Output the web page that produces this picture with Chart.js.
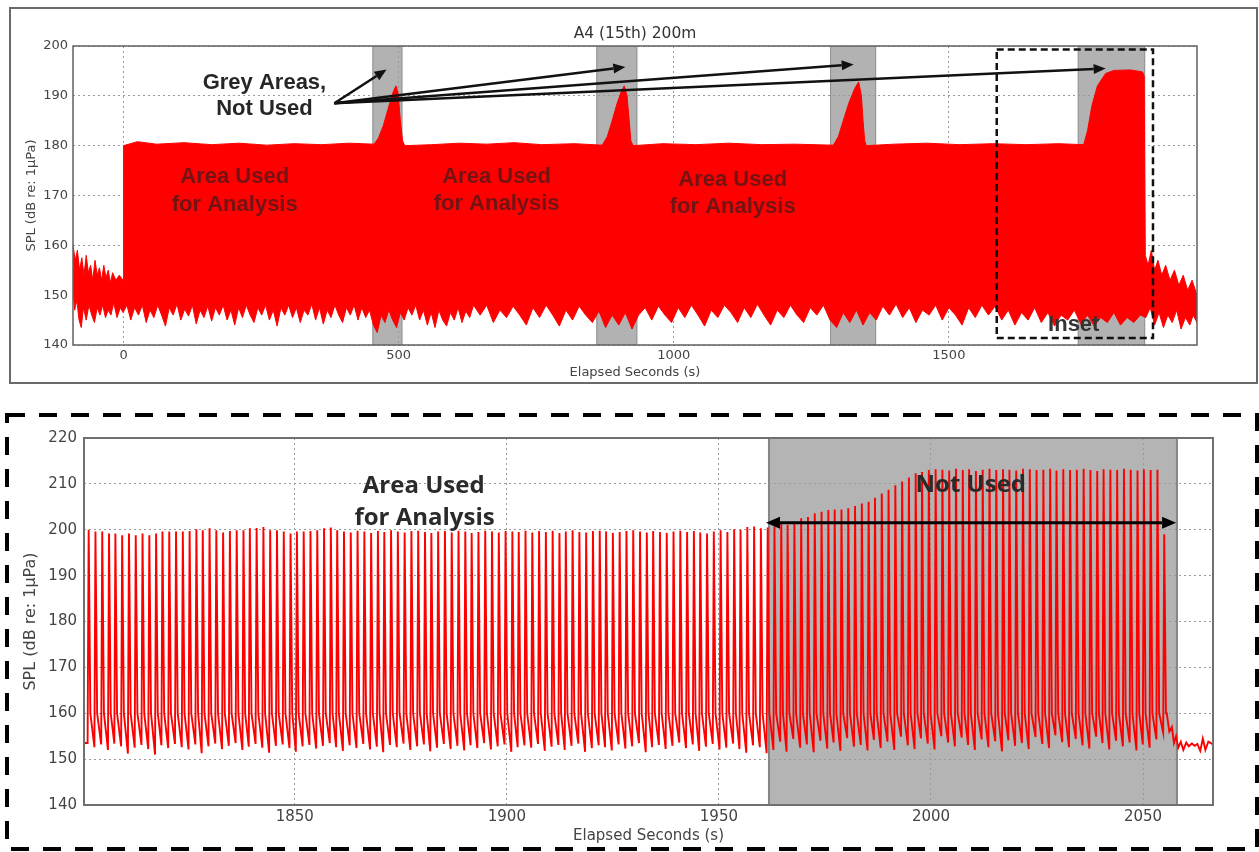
<!DOCTYPE html>
<html>
<head>
<meta charset="utf-8">
<script src="https://cdn.jsdelivr.net/npm/chart.js@4.4.0/dist/chart.umd.min.js"></script>
<style>
  body { margin: 0; background: #fff; width: 1259px; height: 852px; position: relative; overflow: hidden; }
  #frameTop { position: absolute; left: 9px; top: 7px; width: 1245px; height: 373px; border: 2px solid #6a6a6a; }
  canvas { position: absolute; left: 0; }
  #topChart { top: 0; }
  #bottomChart { top: 400px; }
</style>
</head>
<body>
<div id="frameTop"></div>
<canvas id="topChart" width="1259" height="395"></canvas>
<canvas id="bottomChart" width="1259" height="452"></canvas>
<script>
// ---- top panel : whole recording (envelope of the signal) ----
const topTitle = "A4 (15th) 200m";
const topYTicks = [140, 150, 160, 170, 180, 190, 200];
const topXTicks = [0, 500, 1000, 1500];
// grey (not used) windows, seconds
const topGreyAreas = [[453, 506], [860, 933], [1285, 1367], [1735, 1856]];
// upper edge of the red band [s, dB]
const topUpper = [
  [-92,160],[-88,157],[-84,159],[-80,155],[-76,157.5],[-72,154],[-68,158],[-64,154.5],[-60,156],[-56,153],
  [-52,157],[-48,154],[-44,155.5],[-40,153],[-36,156],[-32,153.5],[-28,155],[-24,152.5],[-20,154.5],[-14,153],
  [-8,154],[-1,153],[0,180],[25,180.8],[60,180.3],[110,180.6],[160,180.2],[210,180.5],[260,180.1],[310,180.4],
  [360,180.2],[410,180.5],[455,180.3],[463,181.5],[472,184],[481,187.5],[489,190.5],[495,192],[499,190.5],[503,185],[507,181],[511,180],
  [560,180.2],[610,180.5],[660,180.3],[710,180.6],[760,180.2],[820,180.4],[870,180.1],[879,181.8],[888,185],[897,188.5],[905,191],
  [910,192],[915,190],[919,185],[922,181],[926,180],[980,180.4],[1040,180.2],[1100,180.5],[1160,180.2],[1220,180.3],[1290,180.1],
  [1299,181.8],[1308,185],[1318,188.5],[1329,191.5],[1336,192.8],[1341,190],[1344,185],[1347,181],[1350,180],[1400,180.3],[1460,180.5],[1520,180.2],
  [1580,180.4],[1640,180.2],[1700,180.4],[1745,180.2],[1752,183],[1760,188],[1770,192],[1785,194.5],[1800,195.1],[1830,195.2],
  [1852,194.8],[1855,194],[1857,158],[1862,156],[1868,159],[1874,155],[1880,157],[1887,154],[1894,156],[1902,153],
  [1910,155],[1918,152],[1926,154],[1934,151],[1942,153],[1951,150]
];
// lower edge of the red band [s, dB]
const topLower = [
  [-92,151],[-89,147],[-85,149],[-81,145],[-77,143.5],[-73,147.5],[-68,145],[-63,148],[-58,146],[-53,144.5],
  [-48,147.5],[-43,146],[-38,148],[-33,145.5],[-28,147],[-23,146],[-18,148.5],[-12,145.5],[-6,147.5],[-1,146.5],
  [6,148],[13,145],[20,147.5],[27,146],[34,148],[41,144.5],[48,147],[55,145.5],[62,148],[69,146],
  [76,143.8],[83,147.5],[90,146],[97,148.2],[104,145],[111,147.2],[118,145.8],[125,148],[132,144.2],[139,147],
  [146,145.5],[153,147.8],[160,144.8],[167,147.5],[174,146],[181,148],[188,145],[195,147],[202,144],[209,147.5],
  [216,145.5],[223,148],[230,146],[237,144.5],[244,147.5],[251,146],[258,148],[265,145],[272,147],[279,143.8],
  [286,147.5],[293,146],[300,148],[307,145.5],[314,147.5],[321,144.5],[328,147],[335,146],[342,148.2],[349,145],
  [356,147.5],[363,144.2],[370,147],[377,145.5],[384,148],[391,146],[398,144.5],[405,147.5],[412,146],[419,148],
  [426,145],[433,147.5],[440,145.5],[447,147],[454,144],[461,142.5],[468,146],[475,144.5],[482,147],[489,145],
  [496,143.5],[503,146.5],[510,145],[517,147.5],[524,146],[531,148],[538,145],[545,147],[552,144],[559,146.5],
  [566,143.5],[573,147],[580,145],[587,143.8],[594,146.5],[601,145],[608,147.5],[615,144.5],[622,146.8],[629,145.5],
  [636,148],[648,146],[660,148],[672,144.5],[684,147],[696,145.5],[708,147.8],[720,146],[732,144],[744,147.5],
  [756,145.5],[768,148],[780,146],[792,143.8],[804,147],[816,145],[828,147.8],[840,146],[852,144.5],[864,146.8],
  [876,143.5],[888,146],[900,144],[912,146.5],[924,143.2],[936,146],[948,147.5],[960,145],[972,147.8],[984,146],
  [996,144.5],[1008,147.5],[1020,145.5],[1032,148],[1044,146],[1056,143.8],[1068,147],[1080,145.5],[1092,148],[1104,146.5],
  [1116,144.5],[1128,147.5],[1140,145.5],[1152,148.2],[1164,146],[1176,144],[1188,147],[1200,145.5],[1212,148],[1224,146],
  [1236,144.5],[1248,147.5],[1260,146],[1272,148],[1284,145],[1296,143.5],[1308,146.5],[1320,144.5],[1332,147],[1344,144],
  [1356,146.5],[1368,145],[1380,147.8],[1392,146],[1404,148.2],[1416,145.5],[1428,147.5],[1440,144.5],[1452,147],[1464,146],
  [1476,148],[1488,145],[1500,147.5],[1512,146],[1524,144],[1536,147.5],[1548,145.5],[1560,148],[1572,146],[1584,147.8],
  [1596,145],[1608,147],[1620,144],[1632,146.5],[1644,145],[1656,147.5],[1668,144.5],[1680,146.5],[1692,143.8],[1704,146],
  [1716,145],[1728,147],[1740,144.2],[1752,146],[1764,143.8],[1776,145.5],[1788,144.5],[1800,146.5],[1812,144],[1824,145.5],
  [1836,144.5],[1848,146],[1858,145.5],[1866,147.5],[1874,144],[1882,146.5],[1890,143.5],[1898,146],[1906,144.5],[1914,147],
  [1922,143.2],[1930,145.5],[1938,144],[1944,146],[1951,144.5]
];

// ---- bottom panel : inset, single pulses ----
const insetYTicks = [140, 150, 160, 170, 180, 190, 200, 210, 220];
const insetXTicks = [1850, 1900, 1950, 2000, 2050];
const insetGreyArea = [1961.8, 2058];
// time of each pulse peak (s)
const pulseTimes = [
  1801.4,1803.0,1804.6,1806.2,1807.7,1809.3,1810.9,1812.5,1814.1,1815.7,1817.3,1818.8,1820.4,1822.0,1823.6,1825.2,1826.8,1828.3,1829.9,1831.5,
  1833.1,1834.7,1836.3,1837.9,1839.4,1841.0,1842.6,1844.2,1845.8,1847.4,1849.0,1850.5,1852.1,1853.7,1855.3,1856.9,1858.5,1860.0,1861.6,1863.2,
  1864.8,1866.4,1868.0,1869.6,1871.1,1872.7,1874.3,1875.9,1877.5,1879.1,1880.7,1882.2,1883.8,1885.4,1887.0,1888.6,1890.2,1891.7,1893.3,1894.9,
  1896.5,1898.1,1899.7,1901.3,1902.8,1904.4,1906.0,1907.6,1909.2,1910.8,1912.4,1913.9,1915.5,1917.1,1918.7,1920.3,1921.9,1923.4,1925.0,1926.6,
  1928.2,1929.8,1931.4,1933.0,1934.5,1936.1,1937.7,1939.3,1940.9,1942.5,1944.1,1945.6,1947.2,1948.8,1950.4,1952.0,1953.6,1955.1,1956.7,1958.3,
  1959.9,1961.5,1963.1,1964.7,1966.2,1967.8,1969.4,1971.0,1972.6,1974.2,1975.8,1977.3,1978.9,1980.5,1982.1,1983.7,1985.3,1986.8,1988.4,1990.0,
  1991.6,1993.2,1994.8,1996.4,1997.9,1999.5,2001.1,2002.7,2004.3,2005.9,2007.5,2009.0,2010.6,2012.2,2013.8,2015.4,2017.0,2018.5,2020.1,2021.7,
  2023.3,2024.9,2026.5,2028.1,2029.6,2031.2,2032.8,2034.4,2036.0,2037.6,2039.2,2040.7,2042.3,2043.9,2045.5,2047.1,2048.7,2050.2,2051.8,2053.4,
  2055.0
];
// peak level of each pulse (dB)
const pulsePeaks = [
  200.0,199.6,199.6,199.2,199.2,198.8,199.2,198.8,199.2,198.8,199.2,199.6,199.6,199.6,199.6,199.7,200.1,199.9,200.3,199.9,
  199.4,199.7,199.9,199.9,200.3,200.4,200.6,199.9,199.9,199.6,199.2,199.6,199.6,
  199.7,199.9,200.3,200.5,199.9,199.6,199.4,199.8,199.6,199.3,199.7,199.5,199.9,199.6,199.4,199.7,199.8,199.5,199.3,199.6,
  199.7,199.4,199.8,199.6,199.3,199.5,199.8,199.6,199.4,199.7,199.6,199.5,199.8,
  199.4,199.7,199.5,199.8,199.3,199.6,199.9,199.5,199.4,199.7,199.8,199.6,199.3,199.5,199.7,199.9,199.6,199.4,199.7,199.5,
  199.3,199.6,199.8,199.5,199.7,199.4,199.2,199.6,199.9,199.5,200.1,200.0,200.6,200.7,200.3,200.5,
  200.7,201.4,201.1,201.7,202.5,202.8,203.6,203.9,204.3,204.4,204.4,204.7,205.2,205.7,206.1,207.0,207.9,208.7,209.7,210.5,
  211.4,212.3,212.6,213.0,213.2,
  213.1,212.9,213.3,213.0,213.2,212.8,213.1,213.3,213.0,213.2,213.1,212.9,213.3,213.2,213.0,213.1,213.3,212.9,213.2,213.0,
  213.1,213.3,213.0,212.8,213.2,213.1,213.0,213.3,213.1,212.9,213.2,213.0,213.1,
  199.0
];
// floor reached just before each pulse (dB)
const pulseFloors = [
  153.5,152.6,153.2,152.0,153.4,152.8,151.2,152.5,153.1,152.2,151.0,153.0,152.4,153.3,152.6,152.1,153.2,151.3,152.8,153.4,
  152.2,152.9,153.5,152.0,152.7,153.3,152.5,151.4,152.9,153.2,152.4,151.6,152.8,
  153.1,152.3,152.9,153.5,152.6,151.8,153.0,152.4,153.3,152.1,152.7,151.5,153.1,152.6,153.4,152.0,152.8,153.2,151.7,152.5,
  153.3,152.2,152.9,151.9,153.0,152.4,153.5,152.1,152.8,153.2,151.6,152.6,153.0,
  152.5,153.3,151.8,152.7,153.1,152.0,152.9,153.4,151.6,152.4,153.0,152.6,151.9,153.2,152.3,152.8,153.5,151.5,152.6,153.1,
  152.2,152.9,153.6,152.4,153.2,151.8,152.7,153.3,152.1,152.5,153.4,152.2,151.4,153.0,152.6,151.3,
  152.0,153.8,151.6,154.4,152.5,153.2,151.5,154.0,152.3,153.6,151.8,154.6,152.7,153.1,151.9,154.2,152.4,153.8,152.0,154.9,
  153.0,152.2,154.5,153.4,152.1,155.0,153.6,152.8,154.7,153.1,152.0,154.3,152.6,153.9,151.7,154.1,152.9,153.5,152.2,154.8,
  153.3,152.4,155.2,153.7,152.6,154.4,153.0,152.3,154.9,153.5,152.1,154.0,152.8,153.6,151.9,153.2,152.5,154.3,155.8
];
// level where the fast decay of a pulse turns into the slow one (dB)
const PULSE_KNEE_DB = 160;
// noise after the last pulse [s, dB]
const insetTail = [
  [2055.6,160],[2056.2,156],[2056.8,157],[2057.3,153.5],[2057.8,155],[2058.3,152.5],[2058.9,153.8],[2059.5,152],[2060.2,153.6],
  [2060.8,152.8],[2061.5,153.4],[2062.2,152.9],[2062.8,153.3],[2063.5,151.8],[2064.1,154.5],[2064.7,152],[2065.4,153.8],[2066.5,153.2]
];

const RED = "#ff0000";
const TICK_COLOR = "#444";
const FONT = "'DejaVu Sans', sans-serif";
const ANNOT_FONT = "'Liberation Sans', Arial, sans-serif";
const INSET_FONT = "'Open Sans', 'Liberation Sans', sans-serif";

// build the closed outline of the band: upper edge forward, lower edge back
const bandOutline = topUpper.map(p => ({ x: p[0], y: p[1] }))
  .concat(topLower.slice().reverse().map(p => ({ x: p[0], y: p[1] })));

// pulse train: floor -> peak -> knee for each pulse, then the tail
const pulseLine = [{ x: 1800, y: pulseFloors[0] }];
const nPulses = Math.min(pulseTimes.length, pulsePeaks.length, pulseFloors.length);
for (let i = 0; i < nPulses; i++) {
  pulseLine.push({ x: pulseTimes[i] - 0.25, y: pulseFloors[i] });
  pulseLine.push({ x: pulseTimes[i], y: pulsePeaks[i] });
  pulseLine.push({ x: pulseTimes[i] + 0.4, y: PULSE_KNEE_DB });
}
insetTail.forEach(p => pulseLine.push({ x: p[0], y: p[1] }));

function drawArrow(ctx, x0, y0, x1, y1, lw, headLen, headW) {
  const ang = Math.atan2(y1 - y0, x1 - x0);
  const bx = x1 - headLen * Math.cos(ang), by = y1 - headLen * Math.sin(ang);
  ctx.lineWidth = lw;
  ctx.beginPath(); ctx.moveTo(x0, y0); ctx.lineTo(bx, by); ctx.stroke();
  ctx.beginPath();
  ctx.moveTo(x1, y1);
  ctx.lineTo(bx + headW * Math.sin(ang), by - headW * Math.cos(ang));
  ctx.lineTo(bx - headW * Math.sin(ang), by + headW * Math.cos(ang));
  ctx.closePath(); ctx.fill();
}

function greyRect(ctx, a, x0, x1, fill, edge, edgeW) {
  ctx.fillStyle = fill;
  ctx.fillRect(x0, a.top, x1 - x0, a.bottom - a.top);
  ctx.strokeStyle = edge; ctx.lineWidth = edgeW;
  ctx.beginPath();
  ctx.moveTo(x0, a.top); ctx.lineTo(x0, a.bottom);
  ctx.moveTo(x1, a.top); ctx.lineTo(x1, a.bottom);
  ctx.stroke();
}

const topDecor = {
  id: "topDecor",
  beforeDraw(chart) {
    const { ctx, chartArea: a, scales: { x } } = chart;
    ctx.save();
    topGreyAreas.forEach(g => greyRect(ctx, a, x.getPixelForValue(g[0]), x.getPixelForValue(g[1]), "#b2b2b2", "#8a8a8a", 1));
    ctx.restore();
  },
  afterDraw(chart) {
    const { ctx, chartArea: a, scales: { x, y } } = chart;
    const px = v => x.getPixelForValue(v), py = v => y.getPixelForValue(v);
    ctx.save();
    // axes frame
    ctx.strokeStyle = "#606060"; ctx.lineWidth = 1.5;
    ctx.strokeRect(a.left, a.top, a.right - a.left, a.bottom - a.top);
    // title
    ctx.fillStyle = "#333"; ctx.font = "15.5px " + FONT;
    ctx.textAlign = "center"; ctx.textBaseline = "middle";
    ctx.fillText(topTitle, (a.left + a.right) / 2, a.top - 12);
    // "Area Used for Analysis" over the red band
    ctx.font = "bold 22px " + ANNOT_FONT;
    ctx.fillStyle = "rgba(30,30,30,0.62)";
    [[202, 173.7, 168.1], [678, 173.7, 168.4], [1107, 173.1, 167.7]].forEach(t => {
      ctx.fillText("Area Used", px(t[0]), py(t[1]));
      ctx.fillText("for Analysis", px(t[0]), py(t[2]));
    });
    // grey areas label and arrows
    ctx.fillStyle = "#262626";
    ctx.fillText("Grey Areas,", px(256), py(192.6));
    ctx.fillText("Not Used", px(256), py(187.3));
    ctx.strokeStyle = "#111"; ctx.fillStyle = "#111";
    [[478, 195.3], [912, 195.8], [1327, 196.3], [1785, 195.5]].forEach(h => {
      drawArrow(ctx, px(383), py(188.5), px(h[0]), py(h[1]), 2.5, 12, 5);
    });
    // inset box
    ctx.setLineDash([7, 4]); ctx.lineWidth = 2.5; ctx.strokeStyle = "#111";
    ctx.strokeRect(px(1587), py(199.3), px(1871) - px(1587), py(141.4) - py(199.3));
    ctx.setLineDash([]);
    ctx.fillStyle = "#333"; ctx.font = "bold 22px " + ANNOT_FONT;
    ctx.fillText("Inset", px(1727), py(144));
    ctx.restore();
  }
};

const bottomDecor = {
  id: "bottomDecor",
  beforeDraw(chart) {
    const { ctx, chartArea: a, scales: { x } } = chart;
    ctx.save();
    greyRect(ctx, a, x.getPixelForValue(insetGreyArea[0]), x.getPixelForValue(insetGreyArea[1]), "#b4b4b4", "#858585", 2);
    ctx.restore();
  },
  afterDraw(chart) {
    const { ctx, chartArea: a, scales: { x, y } } = chart;
    const px = v => x.getPixelForValue(v), py = v => y.getPixelForValue(v);
    ctx.save();
    ctx.strokeStyle = "#707070"; ctx.lineWidth = 2;
    ctx.strokeRect(a.left, a.top, a.right - a.left, a.bottom - a.top);
    ctx.fillStyle = "#2a2a2a"; ctx.font = "bold 24px " + INSET_FONT;
    ctx.textAlign = "center"; ctx.textBaseline = "middle";
    ctx.fillText("Area Used", px(1880.4), py(209.5));
    ctx.fillText("for Analysis", px(1880.6), py(202.6));
    ctx.fillText("Not Used", px(2009.4), py(209.8));
    // double arrow across the grey window
    ctx.strokeStyle = "#000"; ctx.fillStyle = "#000";
    drawArrow(ctx, px(2009), py(201.5), px(2057.8), py(201.5), 3, 14, 6);
    drawArrow(ctx, px(2009), py(201.5), px(1961.1), py(201.5), 3, 14, 6);
    // dashed frame around the inset
    ctx.setLineDash([18, 14]); ctx.lineWidth = 4; ctx.strokeStyle = "#000";
    ctx.strokeRect(7, 15, 1250, 434);
    ctx.restore();
  }
};

Chart.defaults.font.family = FONT;
Chart.defaults.color = TICK_COLOR;

const gridStyle = { color: "#9a9a9a", lineWidth: 1, drawTicks: false };
const gridBorder = { display: false, dash: [2, 3] };
const plainLabel = v => String(v);

new Chart(document.getElementById("topChart"), {
  type: "line",
  data: {
    datasets: [{
      data: bandOutline,
      borderColor: RED,
      backgroundColor: RED,
      borderWidth: 1,
      fill: "shape",
      pointRadius: 0,
      tension: 0
    }]
  },
  options: {
    responsive: false,
    animation: false,
    events: [],
    layout: { padding: { left: 24, top: 46, right: 62, bottom: 10 } },
    plugins: { legend: { display: false }, tooltip: { enabled: false }, title: { display: false } },
    scales: {
      x: {
        type: "linear", min: -92, max: 1951,
        afterFit: s => { s.height = 40; },
        afterBuildTicks: s => { s.ticks = topXTicks.map(v => ({ value: v })); },
        grid: Object.assign({}, gridStyle),
        border: gridBorder,
        ticks: { font: { size: 13 }, color: TICK_COLOR, padding: 3, maxRotation: 0, callback: plainLabel },
        title: { display: true, text: "Elapsed Seconds (s)", font: { size: 13 }, color: TICK_COLOR, padding: { top: 0, bottom: 5 } }
      },
      y: {
        min: 140, max: 200,
        afterFit: s => { s.width = 49; },
        afterBuildTicks: s => { s.ticks = topYTicks.map(v => ({ value: v })); },
        grid: Object.assign({}, gridStyle),
        border: gridBorder,
        ticks: { font: { size: 13 }, color: TICK_COLOR, padding: 5, callback: plainLabel },
        title: { display: true, text: "SPL (dB re: 1μPa)", font: { size: 13 }, color: TICK_COLOR, padding: 0 }
      }
    }
  },
  plugins: [topDecor]
});

new Chart(document.getElementById("bottomChart"), {
  type: "line",
  data: {
    datasets: [{
      data: pulseLine,
      borderColor: RED,
      borderWidth: 1.9,
      fill: false,
      pointRadius: 0,
      tension: 0
    }]
  },
  options: {
    responsive: false,
    animation: false,
    events: [],
    layout: { padding: { left: 21, top: 38, right: 46, bottom: 2 } },
    plugins: { legend: { display: false }, tooltip: { enabled: false }, title: { display: false } },
    scales: {
      x: {
        type: "linear", min: 1800.3, max: 2066.5,
        afterFit: s => { s.height = 45; },
        afterBuildTicks: s => { s.ticks = insetXTicks.map(v => ({ value: v })); },
        grid: Object.assign({}, gridStyle),
        border: gridBorder,
        ticks: { font: { size: 15 }, color: TICK_COLOR, padding: 3, maxRotation: 0, callback: plainLabel },
        title: { display: true, text: "Elapsed Seconds (s)", font: { size: 15 }, color: TICK_COLOR, padding: { top: 0, bottom: 5 } }
      },
      y: {
        min: 140, max: 220,
        afterFit: s => { s.width = 63; },
        afterBuildTicks: s => { s.ticks = insetYTicks.map(v => ({ value: v })); },
        grid: Object.assign({}, gridStyle),
        border: gridBorder,
        ticks: { font: { size: 15 }, color: TICK_COLOR, padding: 7, callback: plainLabel },
        title: { display: true, text: "SPL (dB re: 1μPa)", font: { size: 16 }, color: TICK_COLOR, padding: 0 }
      }
    }
  },
  plugins: [bottomDecor]
});
</script>
</body>
</html>
